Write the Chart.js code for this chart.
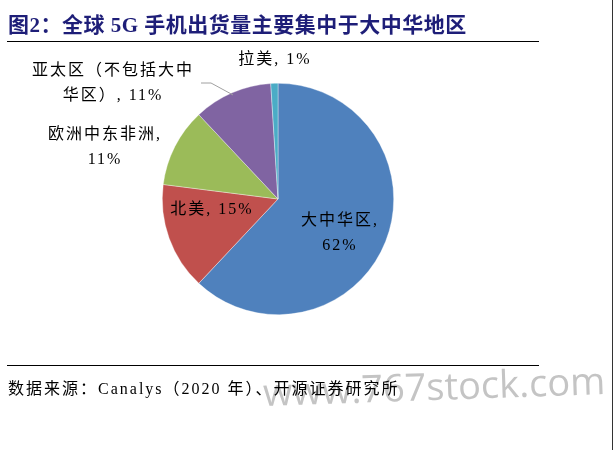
<!DOCTYPE html>
<html>
<head>
<meta charset="utf-8">
<script src="https://cdn.jsdelivr.net/npm/chart.js@4.4.0/dist/chart.umd.min.js"></script>
<style>
    html, body { margin: 0; padding: 0; background: #fff; }
    #wrap { position: relative; width: 614px; height: 450px; overflow: hidden; }
    #chart { position: absolute; left: 0; top: 0; }
    .title {
        position: absolute; left: 8px; top: 8px;
        font: bold 21px "Liberation Serif", "Noto Sans CJK SC", serif;
        color: #1E1E78; white-space: nowrap; letter-spacing: 0.5px;
    }
    .rule { position: absolute; left: 7px; width: 532px; height: 0; border-top: 1.5px solid #000; }
    .source {
        position: absolute; left: 8px; top: 375px;
        font: 16px "Liberation Serif", "Noto Sans CJK SC", serif;
        color: #000; white-space: nowrap; letter-spacing: 2px;
    }
    .mark {
        position: absolute; left: 262px; top: 365px;
        font: 38px "Open Sans", "Liberation Sans", sans-serif;
        color: #c4c4c4; white-space: nowrap;
        transform: rotate(-2deg); transform-origin: left top;
    }
    .edge { position: absolute; left: 612px; top: 0; width: 1px; height: 450px; background: #333; }
</style>
</head>
<body>
<div id="wrap">
    <canvas id="chart" width="614" height="450"></canvas>
    <div class="title">图2：全球 5G 手机出货量主要集中于大中华地区</div>
    <div class="rule" style="top:41px"></div>
    <div class="rule" style="top:365px"></div>
    <div class="mark">www.767stock.com</div>
    <div class="source">数据来源：Canalys（2020 年）、开源证券研究所</div>
    <div class="edge"></div>
</div>
<script>
// 各地区 5G 手机出货量占比
const regions = ['大中华区', '北美', '欧洲中东非洲', '亚太区（不包括大中华区）', '拉美'];
const shares = [62, 15, 11, 11, 1];
const colors = ['#4F81BD', '#C0504D', '#9BBB59', '#8064A2', '#4BACC6'];

// 标签文本（按行）
const labelLines = [
    ['大中华区,', '62%'],
    ['北美, 15%'],
    ['欧洲中东非洲,', '11%'],
    ['亚太区（不包括大中', '华区）, 11%'],
    ['拉美, 1%']
];
// 标签相对饼图圆心的偏移
const labelOffsets = [[62, 34], [-66, 11], [-173, -52], [-165, -116], [-3, -139]];

const labelPlugin = {
    id: 'sliceLabels',
    afterDatasetsDraw(chart) {
        const ctx = chart.ctx;
        const arcs = chart.getDatasetMeta(0).data;
        ctx.save();
        ctx.font = '16px "Liberation Serif", "Noto Sans CJK SC", serif';
        ctx.letterSpacing = '2px';
        ctx.fillStyle = '#000';
        ctx.textAlign = 'center';
        ctx.textBaseline = 'middle';
        const lh = 25;
        arcs.forEach((arc, i) => {
            const cx = arc.x + labelOffsets[i][0];
            const cy = arc.y + labelOffsets[i][1];
            const lines = labelLines[i];
            lines.forEach((t, k) => {
                ctx.fillText(t, cx, cy + (k - (lines.length - 1) / 2) * lh);
            });
        });
        // 亚太区引导线
        const a = arcs[3];
        const mid = (a.startAngle + a.endAngle) / 2;
        const ex = a.x + Math.cos(mid) * a.outerRadius * 0.98;
        const ey = a.y + Math.sin(mid) * a.outerRadius * 0.98;
        ctx.strokeStyle = '#A0A0A0';
        ctx.lineWidth = 1;
        ctx.beginPath();
        ctx.moveTo(a.x - 77, a.y - 116);
        ctx.lineTo(a.x - 67, a.y - 116);
        ctx.lineTo(ex, ey);
        ctx.stroke();
        ctx.restore();
    }
};

new Chart(document.getElementById('chart'), {
    type: 'pie',
    data: {
        labels: regions,
        datasets: [{
            data: shares,
            backgroundColor: colors,
            borderColor: 'rgba(255,255,255,0.6)',
            borderWidth: 0.6
        }]
    },
    options: {
        responsive: false,
        animation: false,
        layout: { padding: { left: 162, right: 220, top: 83, bottom: 135 } },
        plugins: {
            legend: { display: false },
            tooltip: { enabled: false }
        }
    },
    plugins: [labelPlugin]
});
</script>
</body>
</html>
